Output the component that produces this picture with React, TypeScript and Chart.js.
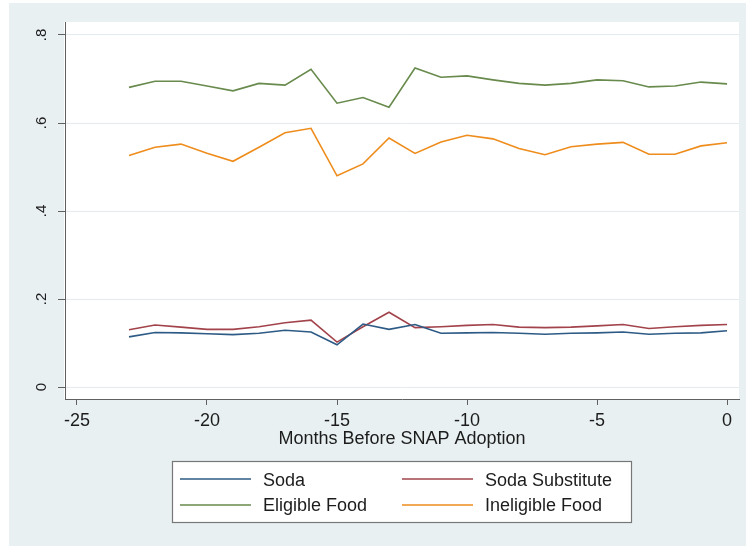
import React, { useEffect, useRef } from "react";
import { Chart, registerables } from "chart.js";

Chart.register(...registerables);

// Months relative to SNAP adoption
const months = [-23, -22, -21, -20, -19, -18, -17, -16, -15, -14, -13, -12, -11, -10, -9, -8, -7, -6, -5, -4, -3, -2, -1, 0];

// Expenditure shares by category
const soda = [0.114, 0.124, 0.123, 0.121, 0.119, 0.122, 0.129, 0.125, 0.096, 0.143, 0.131, 0.142, 0.122, 0.123, 0.124, 0.122, 0.120, 0.122, 0.123, 0.125, 0.120, 0.122, 0.123, 0.128];
const sodaSubstitute = [0.130, 0.141, 0.136, 0.131, 0.131, 0.137, 0.146, 0.152, 0.102, 0.137, 0.170, 0.135, 0.137, 0.140, 0.142, 0.136, 0.135, 0.136, 0.139, 0.142, 0.133, 0.137, 0.140, 0.142];
const eligibleFood = [0.681, 0.695, 0.695, 0.684, 0.673, 0.690, 0.686, 0.722, 0.645, 0.658, 0.636, 0.725, 0.704, 0.707, 0.698, 0.690, 0.686, 0.690, 0.698, 0.696, 0.682, 0.684, 0.693, 0.689];
const ineligibleFood = [0.526, 0.545, 0.552, 0.531, 0.513, 0.545, 0.578, 0.588, 0.480, 0.507, 0.566, 0.531, 0.557, 0.572, 0.564, 0.542, 0.528, 0.546, 0.552, 0.556, 0.529, 0.529, 0.548, 0.555];

const seriesLabels = ["Soda", "Soda Substitute", "Eligible Food", "Ineligible Food"];
const seriesColors = ["#2d5b85", "#a2434b", "#688a4c", "#ee8c1c"];

const xTicks = [-25, -20, -15, -10, -5, 0];
const xTickLabels = ["-25", "-20", "-15", "-10", "-5", "0"];
const yTicks = [0, 0.2, 0.4, 0.6, 0.8];
const yTickLabels = ["0", ".2", ".4", ".6", ".8"];
const xTitle = "Months Before SNAP Adoption";

const FONT = '"Liberation Sans", Arial, Helvetica, sans-serif';
const PANEL_BG = "#e8f0f2";
const GRID = "#e3ebee";
const AXIS = "#606060";
const TEXT = "#1c1c1c";

const stataFrame = {
  id: "stataFrame",
  beforeDraw(chart: any) {
    const { ctx, chartArea } = chart;
    ctx.save();
    ctx.fillStyle = PANEL_BG;
    ctx.fillRect(9, 3, chart.width - 9, chart.height - 3);
    ctx.fillStyle = "#ffffff";
    ctx.fillRect(chartArea.left - 1, chartArea.top, chartArea.right - chartArea.left + 1, chartArea.bottom - chartArea.top);
    ctx.restore();
  },
  afterDraw(chart: any) {
    const { ctx, scales } = chart;
    const xs = scales.x;
    const ys = scales.y;
    ctx.save();
    ctx.fillStyle = TEXT;

    // y tick labels, rotated to read upward
    ctx.font = `15px ${FONT}`;
    ctx.textAlign = "center";
    ctx.textBaseline = "alphabetic";
    yTicks.forEach((v, i) => {
      const py = ys.getPixelForValue(v);
      ctx.save();
      ctx.translate(45.5, py);
      ctx.rotate(-Math.PI / 2);
      ctx.fillText(yTickLabels[i], 0, 0);
      ctx.restore();
    });

    // x tick labels
    ctx.font = `18px ${FONT}`;
    xTicks.forEach((v, i) => {
      ctx.fillText(xTickLabels[i], xs.getPixelForValue(v), 426);
    });

    // x axis title
    ctx.fillText(xTitle, (xs.left + xs.right) / 2, 444);

    // legend
    const bx = 172.5, by = 461.5, bw = 459, bh = 61;
    ctx.fillStyle = "#ffffff";
    ctx.fillRect(bx, by, bw, bh);
    ctx.strokeStyle = "#777777";
    ctx.lineWidth = 1.2;
    ctx.strokeRect(bx, by, bw, bh);

    const colX = [180, 402];
    const lineY = [479, 505];
    const textY = [485.5, 511];
    ctx.font = `18px ${FONT}`;
    ctx.textAlign = "left";
    chart.data.datasets.forEach((ds: any, i: number) => {
      const c = i % 2;
      const r = Math.floor(i / 2);
      ctx.strokeStyle = ds.borderColor;
      ctx.lineWidth = ds.borderWidth;
      ctx.beginPath();
      ctx.moveTo(colX[c], lineY[r]);
      ctx.lineTo(colX[c] + 71, lineY[r]);
      ctx.stroke();
      ctx.fillStyle = TEXT;
      ctx.fillText(ds.label, colX[c] + 83, textY[r]);
    });
    ctx.restore();
  },
};

export default function App() {
  const canvasRef = useRef<HTMLCanvasElement | null>(null);

  useEffect(() => {
    document.body.style.overflow = "hidden";
    const canvas = canvasRef.current;
    if (!canvas) return;
    const series = [soda, sodaSubstitute, eligibleFood, ineligibleFood];
    const chart = new Chart(canvas, {
      type: "line",
      data: {
        datasets: series.map((vals, i) => ({
          label: seriesLabels[i],
          data: months.map((m, j) => ({ x: m, y: vals[j] })),
          borderColor: seriesColors[i],
          backgroundColor: seriesColors[i],
          borderWidth: 1.6,
          pointRadius: 0,
          tension: 0,
          fill: false,
        })),
      },
      options: {
        responsive: false,
        animation: false,
        devicePixelRatio: 1,
        layout: { padding: { top: 22, right: 7, left: 0, bottom: 0 } },
        plugins: {
          legend: { display: false },
          tooltip: { enabled: false },
          title: { display: false },
        },
        scales: {
          x: {
            type: "linear",
            min: -25 - 12 / 26,
            max: 12 / 26,
            afterBuildTicks: (scale: any) => {
              scale.ticks = xTicks.map((v) => ({ value: v }));
            },
            afterFit: (scale: any) => {
              scale.height = 147;
            },
            ticks: { display: false },
            grid: {
              drawOnChartArea: false,
              drawTicks: true,
              tickLength: 6,
              tickColor: AXIS,
              tickWidth: 1,
            },
            border: { display: true, color: AXIS, width: 1 },
          },
          y: {
            type: "linear",
            min: -12 / 440,
            max: 365 / 440,
            afterBuildTicks: (scale: any) => {
              scale.ticks = yTicks.map((v) => ({ value: v }));
            },
            afterFit: (scale: any) => {
              scale.width = 65;
            },
            ticks: { display: false },
            grid: {
              color: GRID,
              lineWidth: 1,
              drawTicks: true,
              tickLength: 7,
              tickColor: AXIS,
              tickWidth: 1,
            },
            border: { display: true, color: AXIS, width: 1 },
          },
        },
      },
      plugins: [stataFrame],
    });
    return () => chart.destroy();
  }, []);

  return (
    <canvas
      ref={canvasRef}
      width={746}
      height={546}
      style={{ position: "fixed", left: 0, top: 0, width: 746, height: 546, display: "block" }}
    />
  );
}
